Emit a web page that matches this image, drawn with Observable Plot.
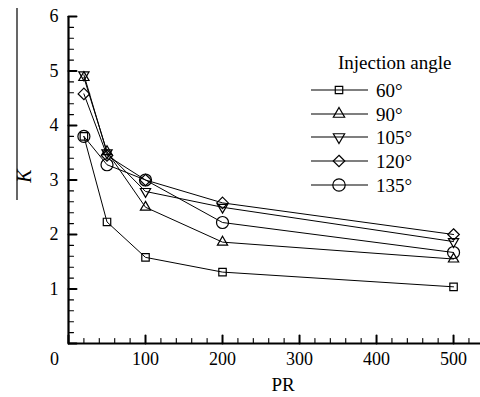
<!DOCTYPE html>
<html>
<head>
<meta charset="utf-8">
<script src="https://cdn.jsdelivr.net/npm/d3@7"></script>
<script src="https://cdn.jsdelivr.net/npm/@observablehq/plot@0.6"></script>
<style>
  body { margin: 0; background: #fff; }
  svg { display: block; }
</style>
</head>
<body>
<div id="chart"></div>
<script>
// Pressure ratio (PR) sample points and mean K for each injection angle
const pr = [20, 50, 100, 200, 500];
const k60 = [3.8, 2.23, 1.58, 1.31, 1.04];
const k90 = [4.88, 3.52, 2.5, 1.86, 1.55];
const k105 = [4.93, 3.5, 2.79, 2.5, 1.87];
const k120 = [4.58, 3.45, 3.0, 2.58, 2.0];
const k135 = [3.8, 3.28, 3.0, 2.22, 1.67];
const angleLabels = ["60°", "90°", "105°", "120°", "135°"];
const legendTitle = "Injection angle";
const xTickLabels = [100, 200, 300, 400, 500];
const yTickLabels = [1, 2, 3, 4, 5, 6];

const FONT = "Liberation Serif";
const sqrt3 = Math.sqrt(3);

// Downward-pointing triangle (mirror of d3.symbolTriangle)
const triangleDown = {
  draw(context, size) {
    const y = -Math.sqrt(size / (sqrt3 * 3));
    context.moveTo(0, -y * 2);
    context.lineTo(-sqrt3 * y, y);
    context.lineTo(sqrt3 * y, y);
    context.closePath();
  }
};

const seriesValues = [k60, k90, k105, k120, k135];
const symbols = [d3.symbolSquare, d3.symbolTriangle, triangleDown, d3.symbolDiamond2, d3.symbolCircle];
const radii = [4.2, 3.8, 3.8, 5.2, 6];

const rows = seriesValues.flatMap((vals, i) =>
  vals.map((k, j) => ({pr: pr[j], k, angle: angleLabels[i]}))
);

// Inward-pointing tick marks
const tickShape = {draw(context, l) { context.moveTo(0, 0); context.lineTo(0, -l); }};
const xMajor = d3.range(0, 501, 100);
const xMinor = d3.range(20, 535, 20).filter(d => d % 100 !== 0);
const yMajor = d3.range(0, 7, 1);
const yMinor = d3.range(0.2, 6, 0.2).filter(d => Math.abs(d - Math.round(d)) > 1e-6);

const svg = Plot.plot({
  width: 480,
  height: 397,
  marginLeft: 68,
  marginRight: 0,
  marginTop: 16,
  marginBottom: 54,
  style: {fontFamily: FONT, fontSize: "18px", color: "#000", background: "#fff"},
  x: {domain: [0, 535]},
  y: {domain: [0, 6]},
  marks: [
    Plot.axisX(xTickLabels, {tickSize: 0, tickPadding: 9, label: null, fontSize: 18, fontFamily: FONT, tickFormat: d => String(d)}),
    Plot.text([0], {x: 0, y: 0, text: d => String(d), dx: -14, dy: 16, fontSize: 18, fontFamily: FONT}),
    Plot.axisY(yTickLabels, {tickSize: 0, tickPadding: 10, label: null, fontSize: 18, fontFamily: FONT, tickFormat: d => String(d)}),
    Plot.vector(xMinor, {x: d => d, y: 0, length: 5, rotate: 0, anchor: "start", shape: tickShape, stroke: "black", strokeWidth: 1.1}),
    Plot.vector(xMajor, {x: d => d, y: 0, length: 8, rotate: 0, anchor: "start", shape: tickShape, stroke: "black", strokeWidth: 2}),
    Plot.vector(yMinor, {x: 0, y: d => d, length: 5, rotate: 90, anchor: "start", shape: tickShape, stroke: "black", strokeWidth: 1.1}),
    Plot.vector(yMajor, {x: 0, y: d => d, length: 8, rotate: 90, anchor: "start", shape: tickShape, stroke: "black", strokeWidth: 2}),
    Plot.ruleY([0], {stroke: "black", strokeWidth: 2.2}),
    Plot.ruleX([0], {stroke: "black", strokeWidth: 2.2}),
    Plot.line(rows, {x: "pr", y: "k", z: "angle", stroke: "black", strokeWidth: 1}),
    ...seriesValues.map((vals, i) =>
      Plot.dot(rows.filter(r => r.angle === angleLabels[i]), {
        x: "pr", y: "k", symbol: symbols[i], r: radii[i],
        fill: "none", stroke: "black", strokeWidth: 1.2
      })
    )
  ]
});

const root = d3.select(svg);

// Axis titles
root.append("text")
  .attr("x", 283).attr("y", 391)
  .attr("text-anchor", "middle")
  .attr("font-family", FONT).attr("font-size", 19)
  .text("PR");

const yTitle = root.append("g").attr("transform", "translate(31,176) rotate(-90)");
yTitle.append("text")
  .attr("text-anchor", "middle")
  .attr("font-family", FONT).attr("font-size", 20).attr("font-style", "italic")
  .text("K");
root.append("line")
  .attr("x1", 17).attr("x2", 17).attr("y1", 8).attr("y2", 200)
  .attr("stroke", "black").attr("stroke-width", 1.2);

// Legend
const legend = root.append("g")
  .attr("font-family", FONT).attr("font-size", 19).attr("text-anchor", "start");
legend.append("text").attr("x", 338).attr("y", 69).text(legendTitle);
const rowY = [90, 114, 137, 161, 185];
const legendRadii = [4.2, 4.2, 4.2, 5.2, 6.2];
angleLabels.forEach((label, i) => {
  const y = rowY[i];
  legend.append("line")
    .attr("x1", 311).attr("x2", 368).attr("y1", y).attr("y2", y)
    .attr("stroke", "black").attr("stroke-width", 1.1);
  legend.append("path")
    .attr("transform", `translate(339,${y})`)
    .attr("d", d3.symbol(symbols[i], Math.PI * legendRadii[i] ** 2)())
    .attr("fill", "none").attr("stroke", "black").attr("stroke-width", 1.2);
  legend.append("text").attr("x", 376).attr("y", y + 6.5).text(label);
});

document.getElementById("chart").appendChild(svg);
</script>
</body>
</html>
